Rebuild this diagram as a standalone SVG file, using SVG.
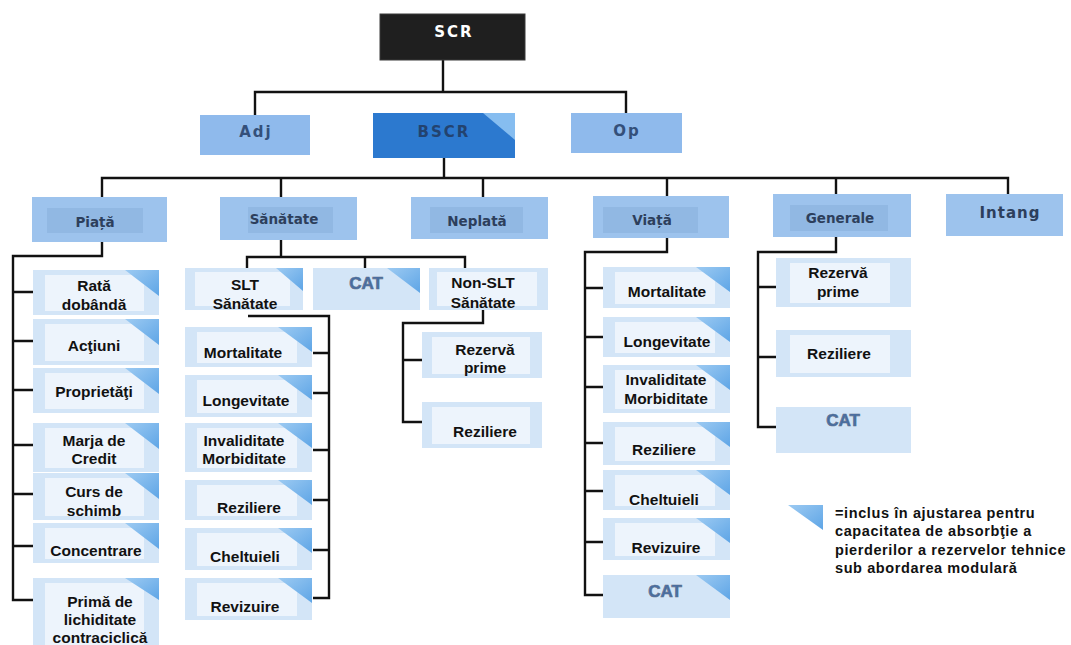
<svg xmlns="http://www.w3.org/2000/svg" width="1071" height="645" viewBox="0 0 1071 645">
  <defs>
    <style>
      .bg{fill:#ffffff}
      .root{fill:#1f1f1f;stroke:#3a3a3a;stroke-width:1}
      .t1{fill:#8fbaec}
      .t1b{fill:#2c79cf}
      .t2{fill:#9dc3ed}
      .t2i{fill:#91b8e3}
      .cb{fill:#d3e5f7}
      .ci{fill:#edf4fc}
      .tri{fill:url(#triGrad)}
      .conn path{fill:none;stroke:#111111;stroke-width:2.4;stroke-linejoin:miter}
      .lt{font-family:"DejaVu Sans",Verdana,sans-serif;font-weight:bold;font-size:15px;letter-spacing:2px;text-anchor:middle}
      .l2{font-family:"DejaVu Sans",Verdana,sans-serif;font-weight:bold;font-size:13.5px;fill:#2d3f5c;text-anchor:middle}
      .ct{font-family:"Liberation Sans",Arial,sans-serif;font-weight:bold;font-size:15.5px;fill:#111111;text-anchor:middle}
      .cat{font-family:"Liberation Sans",Arial,sans-serif;font-weight:bold;font-size:17px;fill:#456ea8;stroke:#5f7088;stroke-width:0.7;text-anchor:middle}
      .leg{font-family:"Liberation Sans",Arial,sans-serif;font-weight:bold;font-size:14.5px;letter-spacing:0.6px;fill:#111111}
    </style>
    <linearGradient id="triGrad" x1="0" y1="0" x2="1" y2="1">
      <stop offset="0" stop-color="#9ccaf2"/>
      <stop offset="1" stop-color="#5ea5e6"/>
    </linearGradient>
  </defs>

  <rect class="bg" x="0" y="0" width="1071" height="645"/>

  <!-- connectors -->
  <g id="connectors" class="conn">
    <path d="M443,60 V92 M255,115 V92 H626 V113 M444,158 V178"/>
    <path d="M102,197 V178 H1008 V194 M281,178 V197 M483,178 V197 M667,178 V196 M836,178 V194"/>
    <!-- Piata -->
    <path d="M102,242 V256 H13 V600 H33 M13,292 H33 M13,341 H33 M13,390 H33 M13,445 H33 M13,494 H33 M13,546 H33"/>
    <!-- Sanatate -->
    <path d="M281,240 V257 M247,268 V257 H465 V268 M365,257 V268"/>
    <path d="M248,316 H329 V598 H313 M313,353 H329 M313,393 H329 M313,450 H329 M313,500 H329 M313,550 H329"/>
    <path d="M483,310 V323 H403 V422 H422 M403,360 H422"/>
    <!-- Viata -->
    <path d="M667,238 V252 H585 V595 H603 M585,288 H603 M585,337 H603 M585,387 H603 M585,443 H603 M585,491 H603 M585,542 H603"/>
    <!-- Generale -->
    <path d="M836,237 V252 H758 V427 H776 M758,287 H776 M758,357 H776"/>
  </g>

  <!-- level 0 / 1 -->
  <g id="scr">
    <rect class="root" x="380" y="14" width="145" height="46"/>
    <text class="lt" x="454" y="37" fill="#ffffff">SCR</text>
  </g>
  <g id="adj">
    <rect class="t1" x="200" y="115" width="110" height="40"/>
    <text class="lt" x="256" y="137" fill="#34507a">Adj</text>
  </g>
  <g id="bscr">
    <rect class="t1b" x="373" y="113" width="142" height="45"/>
    <polygon points="483,113 515,113 515,140" fill="#86bdf0"/>
    <text class="lt" x="444" y="137" fill="#23436f">BSCR</text>
  </g>
  <g id="op">
    <rect class="t1" x="571" y="113" width="111" height="40"/>
    <text class="lt" x="627" y="136" fill="#34507a">Op</text>
  </g>

  <!-- level 2 -->
  <g id="piata">
    <rect class="t2" x="32" y="197" width="135" height="45"/>
    <rect class="t2i" x="47" y="208" width="96" height="25"/>
    <text class="l2" x="95" y="227">Piață</text>
  </g>
  <g id="sanatate">
    <rect class="t2" x="220" y="197" width="137" height="43"/>
    <rect class="t2i" x="248" y="207" width="85" height="26"/>
    <text class="l2" x="284" y="224">Sănătate</text>
  </g>
  <g id="neplata">
    <rect class="t2" x="411" y="197" width="137" height="42"/>
    <rect class="t2i" x="430" y="207" width="93" height="26"/>
    <text class="l2" x="477" y="226">Neplată</text>
  </g>
  <g id="viata">
    <rect class="t2" x="593" y="196" width="136" height="42"/>
    <rect class="t2i" x="603" y="207" width="95" height="26"/>
    <text class="l2" x="652" y="225">Viață</text>
  </g>
  <g id="generale">
    <rect class="t2" x="773" y="194" width="138" height="43"/>
    <rect class="t2i" x="790" y="205" width="98" height="26"/>
    <text class="l2" x="840" y="223">Generale</text>
  </g>
  <g id="intang">
    <rect class="t2" x="946" y="194" width="117" height="42"/>
    <text class="l2" x="1010" y="218" style="font-size:15px;letter-spacing:1px">Intang</text>
  </g>

  <!-- Piata children -->
  <g id="rata-dobanda">
    <rect class="cb" x="33" y="270" width="126" height="45"/>
    <rect class="ci" x="45" y="275" width="99" height="36"/>
    <polygon class="tri" points="125,270 159,270 159,296"/>
    <text class="ct" x="94" y="291">Rată</text>
    <text class="ct" x="94" y="310">dobândă</text>
  </g>
  <g id="actiuni">
    <rect class="cb" x="33" y="319" width="126" height="46"/>
    <rect class="ci" x="45" y="324" width="99" height="37"/>
    <polygon class="tri" points="125,319 159,319 159,345"/>
    <text class="ct" x="94" y="351">Acţiuni</text>
  </g>
  <g id="proprietati">
    <rect class="cb" x="33" y="368" width="126" height="45"/>
    <rect class="ci" x="45" y="373" width="99" height="36"/>
    <polygon class="tri" points="125,368 159,368 159,394"/>
    <text class="ct" x="94" y="397">Proprietăţi</text>
  </g>
  <g id="marja-credit">
    <rect class="cb" x="33" y="423" width="126" height="49"/>
    <rect class="ci" x="45" y="428" width="99" height="40"/>
    <polygon class="tri" points="125,423 159,423 159,449"/>
    <text class="ct" x="94" y="446">Marja de</text>
    <text class="ct" x="94" y="464">Credit</text>
  </g>
  <g id="curs-schimb">
    <rect class="cb" x="33" y="473" width="126" height="47"/>
    <rect class="ci" x="45" y="478" width="99" height="38"/>
    <polygon class="tri" points="125,473 159,473 159,499"/>
    <text class="ct" x="94" y="497">Curs de</text>
    <text class="ct" x="94" y="516">schimb</text>
  </g>
  <g id="concentrare">
    <rect class="cb" x="33" y="523" width="126" height="40"/>
    <rect class="ci" x="45" y="528" width="99" height="31"/>
    <polygon class="tri" points="125,523 159,523 159,549"/>
    <text class="ct" x="96" y="556">Concentrare</text>
  </g>
  <g id="prima-lichiditate">
    <rect class="cb" x="33" y="578" width="126" height="67"/>
    <rect class="ci" x="45" y="583" width="99" height="62"/>
    <polygon class="tri" points="125,578 159,578 159,600"/>
    <text class="ct" x="100" y="607">Primă de</text>
    <text class="ct" x="100" y="625">lichiditate</text>
    <text class="ct" x="100" y="643">contraciclică</text>
  </g>

  <!-- Sanatate children -->
  <g id="slt-sanatate">
    <rect class="cb" x="185" y="268" width="118" height="42"/>
    <rect class="ci" x="195" y="272" width="95" height="34"/>
    <polygon class="tri" points="276,268 303,268 303,291"/>
    <text class="ct" x="245" y="290">SLT</text>
    <text class="ct" x="245" y="309">Sănătate</text>
  </g>
  <g id="cat-sanatate">
    <rect class="cb" x="313" y="268" width="107" height="42"/>
    <polygon class="tri" points="387,268 420,268 420,293"/>
    <text class="cat" x="366" y="289">CAT</text>
  </g>
  <g id="non-slt-sanatate">
    <rect class="cb" x="429" y="268" width="119" height="42"/>
    <rect class="ci" x="437" y="272" width="100" height="34"/>
    <text class="ct" x="483" y="288">Non-SLT</text>
    <text class="ct" x="483" y="308">Sănătate</text>
  </g>

  <g id="slt-mortalitate">
    <rect class="cb" x="185" y="327" width="127" height="40"/>
    <rect class="ci" x="197" y="332" width="100" height="31"/>
    <polygon class="tri" points="278,327 312,327 312,352"/>
    <text class="ct" x="243" y="358">Mortalitate</text>
  </g>
  <g id="slt-longevitate">
    <rect class="cb" x="185" y="375" width="127" height="42"/>
    <rect class="ci" x="197" y="380" width="100" height="33"/>
    <polygon class="tri" points="278,375 312,375 312,400"/>
    <text class="ct" x="246" y="406">Longevitate</text>
  </g>
  <g id="slt-invaliditate">
    <rect class="cb" x="185" y="423" width="127" height="49"/>
    <rect class="ci" x="197" y="428" width="100" height="40"/>
    <polygon class="tri" points="278,423 312,423 312,448"/>
    <text class="ct" x="244" y="446">Invaliditate</text>
    <text class="ct" x="244" y="464">Morbiditate</text>
  </g>
  <g id="slt-reziliere">
    <rect class="cb" x="185" y="480" width="127" height="40"/>
    <rect class="ci" x="197" y="485" width="100" height="31"/>
    <polygon class="tri" points="278,480 312,480 312,505"/>
    <text class="ct" x="249" y="513">Reziliere</text>
  </g>
  <g id="slt-cheltuieli">
    <rect class="cb" x="185" y="528" width="127" height="42"/>
    <rect class="ci" x="197" y="533" width="100" height="33"/>
    <polygon class="tri" points="278,528 312,528 312,553"/>
    <text class="ct" x="245" y="562">Cheltuieli</text>
  </g>
  <g id="slt-revizuire">
    <rect class="cb" x="185" y="578" width="127" height="42"/>
    <rect class="ci" x="197" y="583" width="100" height="33"/>
    <polygon class="tri" points="278,578 312,578 312,603"/>
    <text class="ct" x="245" y="612">Revizuire</text>
  </g>

  <g id="nonslt-rezerva-prime">
    <rect class="cb" x="422" y="332" width="120" height="46"/>
    <rect class="ci" x="432" y="337" width="98" height="37"/>
    <text class="ct" x="485" y="355">Rezervă</text>
    <text class="ct" x="485" y="373">prime</text>
  </g>
  <g id="nonslt-reziliere">
    <rect class="cb" x="422" y="402" width="120" height="46"/>
    <rect class="ci" x="432" y="407" width="98" height="37"/>
    <text class="ct" x="485" y="437">Reziliere</text>
  </g>

  <!-- Viata children -->
  <g id="viata-mortalitate">
    <rect class="cb" x="603" y="267" width="127" height="41"/>
    <rect class="ci" x="615" y="272" width="100" height="32"/>
    <polygon class="tri" points="696,267 730,267 730,292"/>
    <text class="ct" x="667" y="297">Mortalitate</text>
  </g>
  <g id="viata-longevitate">
    <rect class="cb" x="603" y="317" width="127" height="40"/>
    <rect class="ci" x="615" y="322" width="100" height="31"/>
    <polygon class="tri" points="696,317 730,317 730,342"/>
    <text class="ct" x="667" y="347">Longevitate</text>
  </g>
  <g id="viata-invaliditate">
    <rect class="cb" x="603" y="365" width="127" height="48"/>
    <rect class="ci" x="615" y="370" width="100" height="39"/>
    <polygon class="tri" points="696,365 730,365 730,390"/>
    <text class="ct" x="666" y="385">Invaliditate</text>
    <text class="ct" x="666" y="404">Morbiditate</text>
  </g>
  <g id="viata-reziliere">
    <rect class="cb" x="603" y="422" width="127" height="43"/>
    <rect class="ci" x="615" y="427" width="100" height="34"/>
    <polygon class="tri" points="696,422 730,422 730,447"/>
    <text class="ct" x="664" y="455">Reziliere</text>
  </g>
  <g id="viata-cheltuieli">
    <rect class="cb" x="603" y="470" width="127" height="40"/>
    <rect class="ci" x="615" y="475" width="100" height="31"/>
    <polygon class="tri" points="696,470 730,470 730,495"/>
    <text class="ct" x="664" y="505">Cheltuieli</text>
  </g>
  <g id="viata-revizuire">
    <rect class="cb" x="603" y="518" width="127" height="42"/>
    <rect class="ci" x="615" y="523" width="100" height="33"/>
    <polygon class="tri" points="696,518 730,518 730,543"/>
    <text class="ct" x="666" y="553">Revizuire</text>
  </g>
  <g id="viata-cat">
    <rect class="cb" x="603" y="575" width="127" height="43"/>
    <polygon class="tri" points="696,575 730,575 730,600"/>
    <text class="cat" x="665" y="597">CAT</text>
  </g>

  <!-- Generale children -->
  <g id="gen-rezerva-prime">
    <rect class="cb" x="776" y="258" width="135" height="49"/>
    <rect class="ci" x="790" y="263" width="100" height="40"/>
    <text class="ct" x="838" y="278">Rezervă</text>
    <text class="ct" x="838" y="297">prime</text>
  </g>
  <g id="gen-reziliere">
    <rect class="cb" x="776" y="330" width="135" height="47"/>
    <rect class="ci" x="790" y="335" width="100" height="38"/>
    <text class="ct" x="839" y="359">Reziliere</text>
  </g>
  <g id="gen-cat">
    <rect class="cb" x="776" y="407" width="135" height="46"/>
    <text class="cat" x="843" y="426">CAT</text>
  </g>

  <!-- legend -->
  <g id="legend">
    <polygon class="tri" points="788,505 823,505 823,530"/>
    <text class="leg" x="835" y="518">=inclus în ajustarea pentru</text>
    <text class="leg" x="835" y="536">capacitatea de absorbţie a</text>
    <text class="leg" x="835" y="555">pierderilor a rezervelor tehnice</text>
    <text class="leg" x="835" y="573">sub abordarea modulară</text>
  </g>
</svg>
